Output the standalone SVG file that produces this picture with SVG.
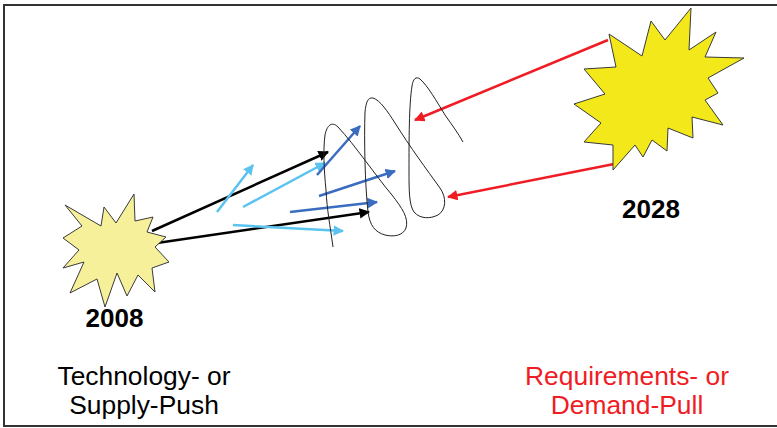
<svg xmlns="http://www.w3.org/2000/svg" width="777" height="428" viewBox="0 0 777 428">
<style>
.star{stroke:#3a3a3a;stroke-width:1;stroke-linejoin:miter}
.yr{font-family:"Liberation Sans",Arial,sans-serif;font-weight:bold;font-size:26px;text-anchor:middle;fill:#000}
.lbl{font-family:"Liberation Sans",Arial,sans-serif;font-size:26.4px;text-anchor:middle}
.ar{fill:none;stroke-width:2.5;stroke-linecap:butt}
</style>
<defs>
<marker id="mk" viewBox="0 0 10 10" refX="9" refY="5" markerWidth="4.2" markerHeight="4.2" orient="auto" markerUnits="strokeWidth"><path d="M0,0 L10,5 L0,10 Z" fill="#000"/></marker>
<marker id="ml" viewBox="0 0 10 10" refX="9" refY="5" markerWidth="4.2" markerHeight="4.2" orient="auto" markerUnits="strokeWidth"><path d="M0,0 L10,5 L0,10 Z" fill="#5bc3ef"/></marker>
<marker id="md" viewBox="0 0 10 10" refX="9" refY="5" markerWidth="4.2" markerHeight="4.2" orient="auto" markerUnits="strokeWidth"><path d="M0,0 L10,5 L0,10 Z" fill="#3a6cc0"/></marker>
<marker id="mr" viewBox="0 0 10 10" refX="9" refY="5" markerWidth="4.2" markerHeight="4.2" orient="auto" markerUnits="strokeWidth"><path d="M0,0 L10,5 L0,10 Z" fill="#f01c24"/></marker>
</defs>
<rect x="4" y="5" width="800" height="421" fill="#fff" stroke="#333" stroke-width="2"/>

<g id="connectors">
<line class="ar" x1="152" y1="231" x2="328" y2="152" stroke="#000" marker-end="url(#mk)"/>
<line class="ar" x1="157" y1="243" x2="369" y2="212" stroke="#000" marker-end="url(#mk)"/>
<line class="ar" x1="217" y1="212" x2="253" y2="165" stroke="#5bc3ef" marker-end="url(#ml)"/>
<line class="ar" x1="243" y1="207" x2="325" y2="163" stroke="#5bc3ef" marker-end="url(#ml)"/>
<line class="ar" x1="233" y1="225" x2="343" y2="231" stroke="#5bc3ef" marker-end="url(#ml)"/>
<line class="ar" x1="317" y1="175" x2="360" y2="126" stroke="#3a6cc0" marker-end="url(#md)"/>
<line class="ar" x1="319" y1="196" x2="395" y2="171" stroke="#3a6cc0" marker-end="url(#md)"/>
<line class="ar" x1="290" y1="212" x2="377" y2="202" stroke="#3a6cc0" marker-end="url(#md)"/>
<line class="ar" x1="608" y1="40" x2="415" y2="120" stroke="#f01c24" marker-end="url(#mr)"/>
<line class="ar" x1="614" y1="164" x2="448" y2="197" stroke="#f01c24" marker-end="url(#mr)"/>
</g>

<g id="spiral">
<path d="M333,247 C330,225 327,210 326,190 C324,170 323,150 325,135 C327,125 332,121 338,127 C355,145 375,175 392,195 C402,208 409,218 406,228 C403,236 393,237 385,235 C375,232 370,226 368,212 C365,185 364,140 365,112 C366,102 368,97 373,98 C380,100 388,112 395,123 C410,147 427,170 440,188 C447,198 446,210 438,215 C430,219 420,219 414,212 C409,205 409,190 409,170 C409,140 409,105 412,86 C413,79 416,76 420,79 C428,86 437,102 445,115 C452,125 458,133 463,142" fill="none" stroke="#222" stroke-width="1"/>
</g>

<g id="star2008">
<polygon class="star" fill="#f6f09a" points="134,194 135,221 153,217 147,232 166,237 155,247 169,262 152,268 155,292 138,275 127,296 117,273 105,307 97,279 70,293 84,262 63,268 79,250 63,238 82,226 65,205 101,226 104,207 116,223"/>
<text class="yr" x="114.5" y="327">2008</text>
</g>

<g id="star2028">
<polygon class="star" fill="#f2e81a" points="691,8 689,50 716,32 705,57 744,58 708,78 718,93 705,100 723,125 692,117 693,138 668,128 667,151 652,140 643,157 635,145 613,170 613,145 584,142 601,123 574,104 605,94 584,69 616,67 609,34 642,56 651,21 665,40"/>
<text class="yr" x="651" y="218">2028</text>
</g>

<g id="push">
<text class="lbl" x="144" y="385" fill="#000">Technology- or</text>
<text class="lbl" x="144" y="414" fill="#000">Supply-Push</text>
</g>
<g id="pull">
<text class="lbl" x="627" y="385" fill="#f01c24">Requirements- or</text>
<text class="lbl" x="627" y="414" fill="#f01c24">Demand-Pull</text>
</g>
</svg>
